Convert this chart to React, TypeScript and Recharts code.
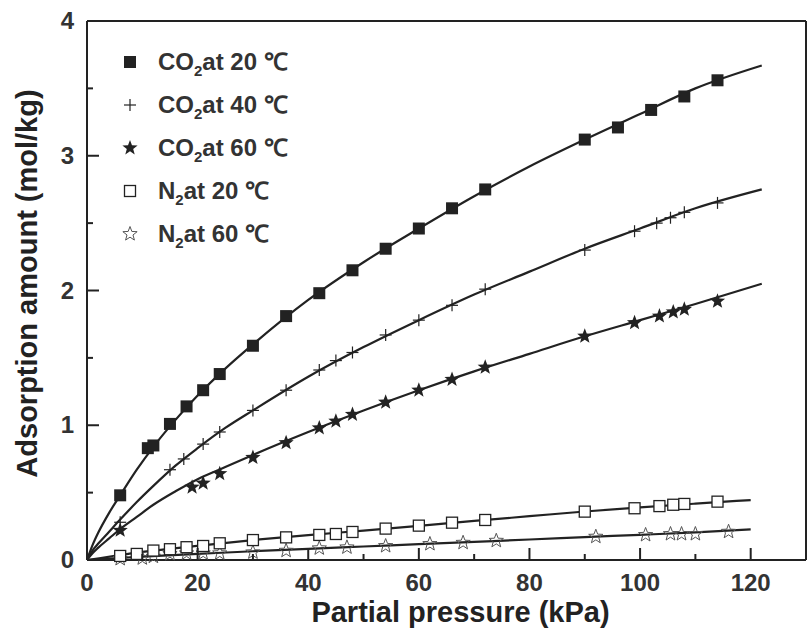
import React from 'react'
import { ComposedChart, Line, Scatter, XAxis, YAxis, ReferenceLine } from 'recharts'

// measured markers
const co2At20 = [
  { x: 6, y: 0.48 }, { x: 11, y: 0.83 }, { x: 12, y: 0.85 }, { x: 15, y: 1.01 }, { x: 18, y: 1.14 },
  { x: 21, y: 1.26 }, { x: 24, y: 1.38 }, { x: 30, y: 1.59 }, { x: 36, y: 1.81 }, { x: 42, y: 1.98 },
  { x: 48, y: 2.15 }, { x: 54, y: 2.31 }, { x: 60, y: 2.46 }, { x: 66, y: 2.61 }, { x: 72, y: 2.75 },
  { x: 90, y: 3.12 }, { x: 96, y: 3.21 }, { x: 102, y: 3.34 }, { x: 108, y: 3.44 }, { x: 114, y: 3.56 },
]
const co2At40 = [
  { x: 6, y: 0.28 }, { x: 15, y: 0.67 }, { x: 17.5, y: 0.75 }, { x: 21, y: 0.86 }, { x: 24, y: 0.95 },
  { x: 30, y: 1.11 }, { x: 36, y: 1.26 }, { x: 42, y: 1.41 }, { x: 45, y: 1.48 }, { x: 48, y: 1.54 },
  { x: 54, y: 1.67 }, { x: 60, y: 1.78 }, { x: 66, y: 1.89 }, { x: 72, y: 2.01 }, { x: 90, y: 2.3 },
  { x: 99, y: 2.44 }, { x: 103, y: 2.5 }, { x: 105.5, y: 2.54 }, { x: 108, y: 2.58 }, { x: 114, y: 2.65 },
]
const co2At60 = [
  { x: 6, y: 0.22 }, { x: 19, y: 0.54 }, { x: 21, y: 0.57 }, { x: 24, y: 0.64 }, { x: 30, y: 0.76 },
  { x: 36, y: 0.87 }, { x: 42, y: 0.98 }, { x: 45, y: 1.03 }, { x: 48, y: 1.08 }, { x: 54, y: 1.17 },
  { x: 60, y: 1.26 }, { x: 66, y: 1.34 }, { x: 72, y: 1.43 }, { x: 90, y: 1.66 }, { x: 99, y: 1.76 },
  { x: 103.5, y: 1.81 }, { x: 106, y: 1.84 }, { x: 108, y: 1.86 }, { x: 114, y: 1.92 },
]
const n2At20 = [
  { x: 6, y: 0.03 }, { x: 9, y: 0.045 }, { x: 12, y: 0.07 }, { x: 15, y: 0.08 }, { x: 18, y: 0.095 },
  { x: 21, y: 0.104 }, { x: 24, y: 0.124 }, { x: 30, y: 0.148 }, { x: 36, y: 0.168 }, { x: 42, y: 0.186 },
  { x: 45, y: 0.193 }, { x: 48, y: 0.208 }, { x: 54, y: 0.233 }, { x: 60, y: 0.255 }, { x: 66, y: 0.277 },
  { x: 72, y: 0.297 }, { x: 90, y: 0.359 }, { x: 99, y: 0.384 }, { x: 103.5, y: 0.4 }, { x: 106, y: 0.41 },
  { x: 108, y: 0.416 }, { x: 114, y: 0.433 },
]
const n2At60 = [
  { x: 6, y: 0.008 }, { x: 10, y: 0.013 }, { x: 12, y: 0.025 }, { x: 15, y: 0.045 }, { x: 18, y: 0.05 },
  { x: 21, y: 0.05 }, { x: 24, y: 0.05 }, { x: 30, y: 0.057 }, { x: 36, y: 0.069 }, { x: 42, y: 0.087 },
  { x: 47, y: 0.094 }, { x: 54, y: 0.104 }, { x: 62, y: 0.119 }, { x: 68, y: 0.128 }, { x: 74, y: 0.143 },
  { x: 92, y: 0.173 }, { x: 101, y: 0.186 }, { x: 105.5, y: 0.193 }, { x: 107.5, y: 0.193 }, { x: 110, y: 0.193 },
  { x: 116, y: 0.21 },
]

// fitted curves
const fitCo2At20 = [
  { x: 0, y: 0 }, { x: 1, y: 0.11 }, { x: 2, y: 0.2 }, { x: 4, y: 0.35 }, { x: 6, y: 0.48 }, { x: 9, y: 0.67 },
  { x: 12, y: 0.84 }, { x: 16, y: 1.04 }, { x: 20, y: 1.22 }, { x: 25, y: 1.42 }, { x: 30, y: 1.6 },
  { x: 40, y: 1.93 }, { x: 50, y: 2.21 }, { x: 60, y: 2.46 }, { x: 70, y: 2.7 }, { x: 80, y: 2.92 },
  { x: 90, y: 3.12 }, { x: 100, y: 3.31 }, { x: 110, y: 3.5 }, { x: 122, y: 3.67 },
]
const fitCo2At40 = [
  { x: 0, y: 0 }, { x: 1, y: 0.07 }, { x: 2, y: 0.12 }, { x: 4, y: 0.21 }, { x: 6, y: 0.3 }, { x: 9, y: 0.43 },
  { x: 12, y: 0.55 }, { x: 16, y: 0.7 }, { x: 20, y: 0.83 }, { x: 25, y: 0.98 }, { x: 30, y: 1.11 },
  { x: 40, y: 1.36 }, { x: 50, y: 1.58 }, { x: 60, y: 1.78 }, { x: 70, y: 1.97 }, { x: 80, y: 2.14 },
  { x: 90, y: 2.31 }, { x: 100, y: 2.46 }, { x: 110, y: 2.61 }, { x: 122, y: 2.75 },
]
const fitCo2At60 = [
  { x: 0, y: 0 }, { x: 1, y: 0.05 }, { x: 2, y: 0.09 }, { x: 4, y: 0.16 }, { x: 6, y: 0.23 }, { x: 9, y: 0.32 },
  { x: 12, y: 0.41 }, { x: 16, y: 0.51 }, { x: 20, y: 0.6 }, { x: 25, y: 0.69 }, { x: 30, y: 0.78 },
  { x: 40, y: 0.95 }, { x: 50, y: 1.11 }, { x: 60, y: 1.26 }, { x: 70, y: 1.4 }, { x: 80, y: 1.53 },
  { x: 90, y: 1.66 }, { x: 100, y: 1.78 }, { x: 110, y: 1.9 }, { x: 122, y: 2.05 },
]
const fitN2At20 = [
  { x: 0, y: 0 }, { x: 5, y: 0.03 }, { x: 10, y: 0.06 }, { x: 20, y: 0.105 }, { x: 30, y: 0.148 },
  { x: 40, y: 0.185 }, { x: 50, y: 0.218 }, { x: 60, y: 0.253 }, { x: 70, y: 0.29 }, { x: 80, y: 0.325 },
  { x: 90, y: 0.36 }, { x: 100, y: 0.39 }, { x: 110, y: 0.418 }, { x: 120, y: 0.445 },
]
const fitN2At60 = [
  { x: 0, y: 0 }, { x: 10, y: 0.025 }, { x: 20, y: 0.045 }, { x: 30, y: 0.065 }, { x: 40, y: 0.083 },
  { x: 50, y: 0.1 }, { x: 60, y: 0.118 }, { x: 70, y: 0.135 }, { x: 80, y: 0.152 }, { x: 90, y: 0.17 },
  { x: 100, y: 0.187 }, { x: 110, y: 0.205 }, { x: 120, y: 0.228 },
]

const xTicks = [0, 10, 20, 30, 40, 50, 60, 70, 80, 90, 100, 110, 120]
const yTicks = [0, 0.5, 1, 1.5, 2, 2.5, 3, 3.5, 4]
const legendRows = [
  { gas: 'CO', sub: '2', temp: '20', marker: 'filledSquare' },
  { gas: 'CO', sub: '2', temp: '40', marker: 'plus' },
  { gas: 'CO', sub: '2', temp: '60', marker: 'filledStar' },
  { gas: 'N', sub: '2', temp: '20', marker: 'openSquare' },
  { gas: 'N', sub: '2', temp: '60', marker: 'openStar' },
]

const W = 808
const H = 634
const PLOT_LEFT = 87
const PLOT_BOTTOM = 560
const INK = '#222'
const FONT = '"Liberation Sans", Arial, sans-serif'

function starPath(cx: number, cy: number, r: number) {
  const pts: string[] = []
  for (let i = 0; i < 10; i++) {
    const rad = i % 2 === 0 ? r : r * 0.42
    const a = -Math.PI / 2 + (i * Math.PI) / 5
    pts.push(`${cx + rad * Math.cos(a)},${cy + rad * Math.sin(a)}`)
  }
  return `M${pts.join('L')}Z`
}

function Marker({ kind, cx, cy }: { kind: string; cx: number; cy: number }) {
  if (kind === 'filledSquare') return <rect x={cx - 6} y={cy - 6} width={12} height={12} fill={INK} />
  if (kind === 'openSquare')
    return <rect x={cx - 5.5} y={cy - 5.5} width={11} height={11} fill="#fff" stroke={INK} strokeWidth={1.3} />
  if (kind === 'plus')
    return (
      <g stroke={INK} strokeWidth={1.2}>
        <line x1={cx - 6} x2={cx + 6} y1={cy} y2={cy} />
        <line x1={cx} x2={cx} y1={cy - 6} y2={cy + 6} />
      </g>
    )
  if (kind === 'filledStar') return <path d={starPath(cx, cy, 8)} fill={INK} />
  return <path d={starPath(cx, cy, 7.5)} fill="none" stroke="#555" strokeWidth={1} />
}

const shapeOf = (kind: string) => (p: any) => <Marker kind={kind} cx={p.cx} cy={p.cy} />

function XTick({ x, payload }: any) {
  const major = payload.value % 20 === 0
  return (
    <g>
      <line x1={x} x2={x} y1={PLOT_BOTTOM} y2={PLOT_BOTTOM - (major ? 12 : 6)} stroke={INK} strokeWidth={2} />
      {major && (
        <text x={x} y={PLOT_BOTTOM + 31} textAnchor="middle" fontSize={24} fontWeight="bold" fill="#333" fontFamily={FONT}>
          {payload.value}
        </text>
      )}
    </g>
  )
}

function YTick({ y, payload }: any) {
  const major = payload.value % 1 === 0
  return (
    <g>
      <line x1={PLOT_LEFT} x2={PLOT_LEFT + (major ? 12 : 6)} y1={y} y2={y} stroke={INK} strokeWidth={2} />
      {major && (
        <text x={PLOT_LEFT - 13} y={y + 8} textAnchor="end" fontSize={24} fontWeight="bold" fill="#333" fontFamily={FONT}>
          {payload.value}
        </text>
      )}
    </g>
  )
}

function LegendBox() {
  return (
    <div
      style={{
        position: 'absolute', left: 119, top: 40, fontFamily: FONT, fontWeight: 'bold',
        fontSize: 24, color: '#333', lineHeight: 1,
      }}
    >
      {legendRows.map((r, i) => (
        <div key={i} style={{ display: 'flex', alignItems: 'center', height: 43 }}>
          <svg width={22} height={22} style={{ marginRight: 17 }}>
            <Marker kind={r.marker} cx={11} cy={11} />
          </svg>
          <span style={{ whiteSpace: 'nowrap' }}>
            {r.gas}
            <sub style={{ fontSize: 15, lineHeight: 0 }}>{r.sub}</sub>at {r.temp} ℃
          </span>
        </div>
      ))}
    </div>
  )
}

export default function App() {
  return (
    <div style={{ position: 'absolute', left: 0, top: 0, width: W, height: H, background: '#fff' }}>
      <ComposedChart width={W} height={H} margin={{ top: 21, right: 2, bottom: 0, left: 0 }}>
        <XAxis
          type="number"
          dataKey="x"
          domain={[0, 130]}
          ticks={xTicks}
          interval={0}
          height={74}
          stroke={INK}
          strokeWidth={2}
          tickLine={false}
          tick={<XTick />}
          label={{ value: 'Partial pressure (kPa)', position: 'insideBottom', offset: 12, dx: 14, fontSize: 29, fontWeight: 'bold', fill: '#222', fontFamily: FONT }}
        />
        <YAxis
          type="number"
          domain={[0, 4]}
          ticks={yTicks}
          interval={0}
          width={87}
          stroke={INK}
          strokeWidth={2}
          tickLine={false}
          tick={<YTick />}
          label={{ value: 'Adsorption amount (mol/kg)', angle: -90, position: 'insideLeft', offset: 27, dy: -7, fontSize: 29, fontWeight: 'bold', fill: '#222', fontFamily: FONT, style: { textAnchor: 'middle' } }}
        />
        <ReferenceLine y={4} stroke={INK} strokeWidth={2} />
        <ReferenceLine x={130} stroke={INK} strokeWidth={2} />
        <Line data={fitCo2At20} dataKey="y" type="monotone" dot={false} stroke={INK} strokeWidth={2.2} isAnimationActive={false} />
        <Line data={fitCo2At40} dataKey="y" type="monotone" dot={false} stroke={INK} strokeWidth={2.2} isAnimationActive={false} />
        <Line data={fitCo2At60} dataKey="y" type="monotone" dot={false} stroke={INK} strokeWidth={2.2} isAnimationActive={false} />
        <Line data={fitN2At20} dataKey="y" type="monotone" dot={false} stroke={INK} strokeWidth={2.2} isAnimationActive={false} />
        <Line data={fitN2At60} dataKey="y" type="monotone" dot={false} stroke={INK} strokeWidth={2.2} isAnimationActive={false} />
        <Scatter data={n2At60} dataKey="y" shape={shapeOf('openStar')} isAnimationActive={false} />
        <Scatter data={n2At20} dataKey="y" shape={shapeOf('openSquare')} isAnimationActive={false} />
        <Scatter data={co2At60} dataKey="y" shape={shapeOf('filledStar')} isAnimationActive={false} />
        <Scatter data={co2At40} dataKey="y" shape={shapeOf('plus')} isAnimationActive={false} />
        <Scatter data={co2At20} dataKey="y" shape={shapeOf('filledSquare')} isAnimationActive={false} />
      </ComposedChart>
      <LegendBox />
    </div>
  )
}
